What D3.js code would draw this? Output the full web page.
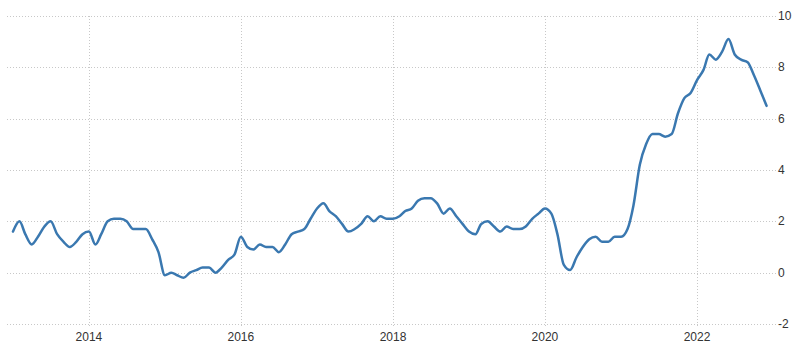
<!DOCTYPE html>
<html>
<head>
<meta charset="utf-8">
<script src="https://cdn.jsdelivr.net/npm/d3@7"></script>
<style>
html,body{margin:0;padding:0;background:#fff;}
svg{display:block;}
text{font-family:"Liberation Sans",Arial,sans-serif;}
</style>
</head>
<body>
<svg id="chart" width="800" height="354"></svg>
<script>
// Monthly values, Jan 2013 - Dec 2022
const startYear = 2013;
const values = [
  1.6, 2.0, 1.5, 1.1, 1.4, 1.8, 2.0, 1.5, 1.2, 1.0, 1.2, 1.5,
  1.6, 1.1, 1.5, 2.0, 2.1, 2.1, 2.0, 1.7, 1.7, 1.7, 1.3, 0.8,
  -0.1, 0.0, -0.1, -0.2, 0.0, 0.1, 0.2, 0.2, 0.0, 0.2, 0.5, 0.7,
  1.4, 1.0, 0.9, 1.1, 1.0, 1.0, 0.8, 1.1, 1.5, 1.6, 1.7, 2.1,
  2.5, 2.7, 2.4, 2.2, 1.9, 1.6, 1.7, 1.9, 2.2, 2.0, 2.2, 2.1,
  2.1, 2.2, 2.4, 2.5, 2.8, 2.9, 2.9, 2.7, 2.3, 2.5, 2.2, 1.9,
  1.6, 1.5, 1.9, 2.0, 1.8, 1.6, 1.8, 1.7, 1.7, 1.8, 2.1, 2.3,
  2.5, 2.3, 1.5, 0.3, 0.1, 0.6, 1.0, 1.3, 1.4, 1.2, 1.2, 1.4,
  1.4, 1.7, 2.6, 4.2, 5.0, 5.4, 5.4, 5.3, 5.4, 6.2, 6.8, 7.0,
  7.5, 7.9, 8.5, 8.3, 8.6, 9.1, 8.5, 8.3, 8.2, 7.7, 7.1, 6.5
];
const yTicks = [-2, 0, 2, 4, 6, 8, 10];
const xTickYears = [2014, 2016, 2018, 2020, 2022];

(function () {
const data = values.map((v, i) => ({
  date: new Date(startYear + Math.floor(i / 12), i % 12, 1),
  value: v
}));

const svg = d3.select("#chart");
const pLeft = 7, pTop = 16, pBottom = 324;

const x = d3.scaleTime()
  .domain([new Date(2013, 0, 1), new Date(2023, 0, 1)])
  .range([13, 773]);
const y = d3.scaleLinear().domain([-2, 10]).range([pBottom, pTop]);

// horizontal grid
svg.append("g").selectAll("line").data(yTicks).join("line")
  .attr("x1", pLeft).attr("x2", 776)
  .attr("y1", d => Math.round(y(d)) + 0.5).attr("y2", d => Math.round(y(d)) + 0.5)
  .attr("stroke", "#c8c8c8").attr("stroke-width", 1)
  .attr("stroke-dasharray", "1,2");

// vertical grid
svg.append("g").selectAll("line").data(xTickYears).join("line")
  .attr("x1", d => Math.round(x(new Date(d, 0, 1))) + 0.5)
  .attr("x2", d => Math.round(x(new Date(d, 0, 1))) + 0.5)
  .attr("y1", pTop).attr("y2", pBottom + 4)
  .attr("stroke", "#c8c8c8").attr("stroke-width", 1)
  .attr("stroke-dasharray", "1,2");

// y labels (right)
svg.append("g").selectAll("text").data(yTicks).join("text")
  .attr("x", 778).attr("y", d => y(d) + 4)
  .attr("font-size", 12).attr("fill", "#333")
  .text(d => d);

// x labels
svg.append("g").selectAll("text").data(xTickYears).join("text")
  .attr("x", d => x(new Date(d, 0, 1))).attr("y", 341)
  .attr("text-anchor", "middle")
  .attr("font-size", 12).attr("fill", "#333")
  .text(d => d);

// line
const line = d3.line()
  .x(d => x(d.date))
  .y(d => y(d.value))
  .curve(d3.curveMonotoneX);

svg.append("path").datum(data)
  .attr("d", line)
  .attr("fill", "none")
  .attr("stroke", "#3a78b0")
  .attr("stroke-width", 2.5)
  .attr("stroke-linejoin", "round")
  .attr("stroke-linecap", "round");
})();
</script>
</body>
</html>
